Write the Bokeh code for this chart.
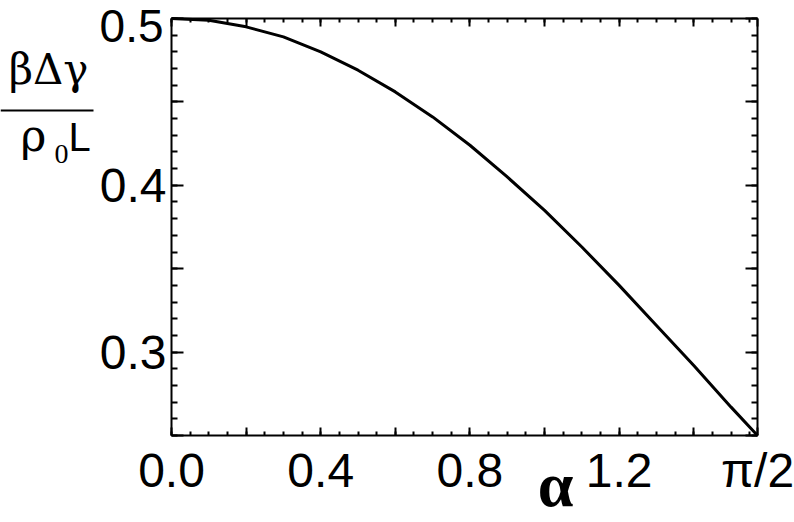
import math
from bokeh.plotting import figure
from bokeh.models import (Range1d, FixedTicker, LinearAxis, CustomJSTickFormatter,
                          Label, Arrow)
from bokeh.embed import file_html
from bokeh.resources import INLINE

# ---- data ----
alpha = [0.0, 0.1, 0.2, 0.3, 0.4, 0.5, 0.6, 0.7, 0.8, 0.9, 1.0,
         1.1, 1.2, 1.3, 1.4, 1.5, 1.5708]
ratio = [0.500, 0.499, 0.495, 0.489, 0.480, 0.469, 0.456, 0.441, 0.424,
         0.405, 0.385, 0.363, 0.340, 0.316, 0.292, 0.267, 0.250]

x_tick_values = [0.0, 0.2, 0.4, 0.6, 0.8, 1.0, 1.2, 1.4, math.pi / 2]
x_tick_labels = ["0.0", "", "0.4", "", "0.8", "", "1.2", "", "π/2"]
y_tick_values = [0.25, 0.30, 0.35, 0.40, 0.45, 0.50]
y_tick_labels = ["", "0.3", "", "0.4", "", "0.5"]

x_label = "α"
y_num = "βΔγ"
y_den_rho = "ρ"
y_den_sub = "0"
y_den_L = "L"

# ---- layout (pixels of the 794x522 canvas) ----
W, H = 794, 522
FL, FR, FT, FB = 171, 757, 18, 435          # where the boxed plot area sits
X0, X1 = 0.0, math.pi / 2
Y0, Y1 = 0.25, 0.50
kx = (X1 - X0) / (FR - FL)
ky = (Y1 - Y0) / (FB - FT)

def dx(px):
    return X0 + (px - FL) * kx

def dy(py):
    return Y1 - (py - FT) * ky

p = figure(width=W, height=H, output_backend="svg", toolbar_location=None,
           x_range=Range1d(dx(0), dx(W)), y_range=Range1d(dy(H), dy(0)),
           min_border=0, min_border_left=0, min_border_right=0,
           min_border_top=0, min_border_bottom=0,
           x_axis_type=None, y_axis_type=None)
p.outline_line_color = None
p.background_fill_color = "white"
p.border_fill_color = "white"
p.xgrid.visible = False
p.ygrid.visible = False

FONT = "Liberation Sans"

x_minor = [round(0.05 * i, 4) for i in range(32)]
y_minor = [round(0.25 + 0.01 * i, 4) for i in range(26)]

js = """
for (let i = 0; i < vals.length; i++) {
  if (Math.abs(tick - vals[i]) < 1e-6) return labs[i];
}
return "";
"""

def make_axis(ticks, minor, labels, major_len, minor_len, loc, bounds, show):
    ax = LinearAxis(ticker=FixedTicker(ticks=ticks, minor_ticks=minor),
                    fixed_location=loc, bounds=bounds)
    ax.axis_line_width = 2
    ax.axis_line_color = "black"
    ax.major_tick_line_width = 2
    ax.minor_tick_line_width = 2
    ax.major_tick_in = major_len
    ax.major_tick_out = 0
    ax.minor_tick_in = minor_len
    ax.minor_tick_out = 0
    if show:
        ax.formatter = CustomJSTickFormatter(args=dict(vals=ticks, labs=labels), code=js)
        ax.major_label_text_font = FONT
        ax.major_label_text_font_size = "48px"
        ax.major_label_text_color = "black"
    else:
        ax.formatter = CustomJSTickFormatter(code="return '';")
        ax.major_label_text_font_size = "1px"
        ax.major_label_standoff = 0
    return ax

left_labels = [l if v != y_tick_values[-1] else "" for v, l in zip(y_tick_values, y_tick_labels)]

xb = make_axis(x_tick_values, x_minor, x_tick_labels, 8, 4, Y0, (X0, X1), True)
xb.major_label_standoff = 8
p.add_layout(xb, "below")
xt = make_axis(x_tick_values, x_minor, None, 8, 4, Y1, (X0, X1), False)
p.add_layout(xt, "above")
yl = make_axis(y_tick_values, y_minor, left_labels, 12, 6, X0, (Y0, Y1), True)
yl.major_label_standoff = 5
p.add_layout(yl, "left")
yr = make_axis(y_tick_values, y_minor, None, 12, 6, X1, (Y0, Y1), False)
p.add_layout(yr, "right")

p.line(alpha, ratio, line_width=3, color="black")

def lab(text, px, center_py, font, size_px, align="left", style="normal"):
    p.add_layout(Label(x=dx(px), y=dy(center_py), text=text,
                       text_font=font, text_font_size=f"{size_px}px",
                       text_align=align, text_baseline="middle",
                       text_font_style=style, text_color="black"))

# top y tick label (nudged down as in the reference)
lab(y_tick_labels[-1], 163, 25, FONT, 46, align="right")

# x axis label
lab(x_label, 555, 484, "Liberation Serif", 64, align="center", style="bold")

# y axis label as a fraction
lab(y_num, 48, 69, "DejaVu Serif", 42, align="center")
p.add_layout(Arrow(x_start=dx(0), y_start=dy(110), x_end=dx(93), y_end=dy(110),
                   start=None, end=None, line_width=2, line_color="black"))
lab(y_den_rho, 33, 135, "DejaVu Serif", 44, align="center")
lab(y_den_sub, 54, 153, "Liberation Serif", 28)
lab(y_den_L, 68, 136, FONT, 40)

open("out.html", "w").write(file_html(p, INLINE))
